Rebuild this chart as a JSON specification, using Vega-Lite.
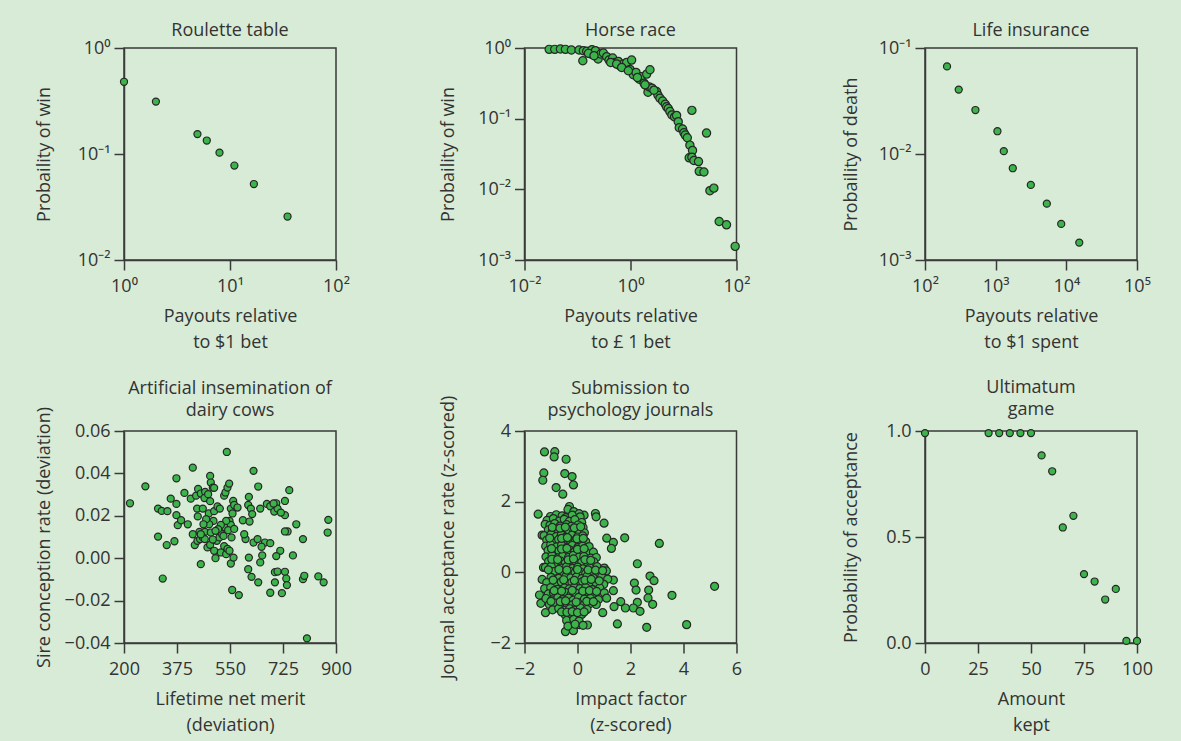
{
  "$schema": "https://vega.github.io/schema/vega-lite/v6.json",
  "background": "#d8ebd6",
  "padding": {"left": 34, "top": 21, "right": 30, "bottom": 8},
  "config": {
    "font": "Open Sans",
    "view": {"stroke": "#3a3a3a", "strokeWidth": 1.5},
    "axis": {
      "domainColor": "#3a3a3a", "domainWidth": 1.5,
      "tickColor": "#3a3a3a", "tickWidth": 1.5, "tickSize": 10,
      "grid": false, "labelFontSize": 18, "labelColor": "#333333",
      "titleFontSize": 18, "titleFontWeight": "normal", "titleColor": "#333333",
      "labelFlush": false, "labelOverlap": false
    },
    "axisX": {"labelPadding": 7, "titlePadding": 12, "titleLineHeight": 26},
    "axisY": {"labelPadding": 4, "titlePadding": 10},
    "title": {"fontSize": 18, "fontWeight": "normal", "color": "#333333", "lineHeight": 22}
  },
  "datasets": {
    "roulette": [
      {"payout": 1, "p": 0.48}, {"payout": 2, "p": 0.312}, {"payout": 4.93, "p": 0.154},
      {"payout": 6.04, "p": 0.134}, {"payout": 7.96, "p": 0.103}, {"payout": 11.0, "p": 0.0778},
      {"payout": 16.8, "p": 0.0521}, {"payout": 34.9, "p": 0.0257}
    ],
    "horse": [
      {"payout": 0.0292, "p": 0.957}, {"payout": 0.0372, "p": 0.957}, {"payout": 0.0476, "p": 0.968},
      {"payout": 0.0591, "p": 0.957}, {"payout": 0.0767, "p": 0.936}, {"payout": 0.107, "p": 0.936},
      {"payout": 0.126, "p": 0.66}, {"payout": 0.129, "p": 0.917}, {"payout": 0.149, "p": 0.897},
      {"payout": 0.178, "p": 0.822}, {"payout": 0.188, "p": 0.947}, {"payout": 0.218, "p": 0.917},
      {"payout": 0.245, "p": 0.698}, {"payout": 0.274, "p": 0.822}, {"payout": 0.308, "p": 0.849},
      {"payout": 0.356, "p": 0.753}, {"payout": 0.394, "p": 0.675}, {"payout": 0.461, "p": 0.721},
      {"payout": 0.511, "p": 0.625}, {"payout": 0.59, "p": 0.646}, {"payout": 0.617, "p": 0.567},
      {"payout": 0.733, "p": 0.593}, {"payout": 0.822, "p": 0.549}, {"payout": 0.847, "p": 0.625},
      {"payout": 0.979, "p": 0.497}, {"payout": 1.05, "p": 0.675}, {"payout": 1.13, "p": 0.418},
      {"payout": 1.27, "p": 0.451}, {"payout": 1.47, "p": 0.362}, {"payout": 1.6, "p": 0.391},
      {"payout": 1.8, "p": 0.318}, {"payout": 2.02, "p": 0.427}, {"payout": 2.14, "p": 0.237},
      {"payout": 2.33, "p": 0.492}, {"payout": 2.26, "p": 0.282}, {"payout": 2.54, "p": 0.27},
      {"payout": 3.11, "p": 0.242}, {"payout": 3.3, "p": 0.215}, {"payout": 3.59, "p": 0.195},
      {"payout": 4.04, "p": 0.178}, {"payout": 4.53, "p": 0.16}, {"payout": 4.8, "p": 0.147},
      {"payout": 5.16, "p": 0.139}, {"payout": 5.55, "p": 0.126}, {"payout": 6.05, "p": 0.113},
      {"payout": 6.79, "p": 0.106}, {"payout": 7.41, "p": 0.111}, {"payout": 7.96, "p": 0.0906},
      {"payout": 8.32, "p": 0.0745}, {"payout": 9.61, "p": 0.0713}, {"payout": 10.2, "p": 0.0632},
      {"payout": 10.8, "p": 0.0586}, {"payout": 11.8, "p": 0.0537}, {"payout": 13.2, "p": 0.0422},
      {"payout": 14.8, "p": 0.0355}, {"payout": 12.8, "p": 0.0279}, {"payout": 14.4, "p": 0.0285},
      {"payout": 15.7, "p": 0.0256}, {"payout": 19.2, "p": 0.0247}, {"payout": 19.8, "p": 0.018},
      {"payout": 24.3, "p": 0.0176}, {"payout": 14.4, "p": 0.131}, {"payout": 27.2, "p": 0.0625},
      {"payout": 31.5, "p": 0.00957}, {"payout": 37.4, "p": 0.0104}, {"payout": 47.1, "p": 0.00351},
      {"payout": 64.8, "p": 0.00315}, {"payout": 94.4, "p": 0.00156},
      {"payout": 0.161, "p": 0.84}, {"payout": 0.205, "p": 0.778}, {"payout": 0.423, "p": 0.625},
      {"payout": 0.548, "p": 0.593}, {"payout": 0.682, "p": 0.531}, {"payout": 0.91, "p": 0.476},
      {"payout": 1.35, "p": 0.383}, {"payout": 1.88, "p": 0.301}, {"payout": 2.77, "p": 0.253}
    ],
    "life": [
      {"payout": 205, "p": 0.067}, {"payout": 300, "p": 0.0405}, {"payout": 517, "p": 0.026},
      {"payout": 1059, "p": 0.0164}, {"payout": 1303, "p": 0.01063}, {"payout": 1747, "p": 0.00734},
      {"payout": 3144, "p": 0.00511}, {"payout": 5297, "p": 0.0034}, {"payout": 8465, "p": 0.00219},
      {"payout": 15240, "p": 0.00146}
    ],
    "cows": [
      {"merit": 219.8, "rate": 0.0259}, {"merit": 270.6, "rate": 0.0339}, {"merit": 312.4, "rate": 0.0234},
      {"merit": 324.6, "rate": 0.0223}, {"merit": 343.3, "rate": 0.0222}, {"merit": 354.3, "rate": 0.0281},
      {"merit": 373.1, "rate": 0.0377}, {"merit": 373.1, "rate": 0.0256}, {"merit": 373.1, "rate": 0.0203},
      {"merit": 377.5, "rate": 0.0156}, {"merit": 399.5, "rate": 0.0308}, {"merit": 388.5, "rate": 0.0179},
      {"merit": 410.6, "rate": 0.016}, {"merit": 420.5, "rate": 0.0281}, {"merit": 427.1, "rate": 0.0427},
      {"merit": 438.1, "rate": 0.0295}, {"merit": 441.4, "rate": 0.0234}, {"merit": 443.6, "rate": 0.0197},
      {"merit": 444.7, "rate": 0.0327}, {"merit": 453.6, "rate": 0.0305}, {"merit": 449.1, "rate": 0.0124},
      {"merit": 467.9, "rate": 0.0313}, {"merit": 465.7, "rate": 0.0284}, {"merit": 460.2, "rate": 0.0234},
      {"merit": 477.8, "rate": 0.0302}, {"merit": 484.4, "rate": 0.0388}, {"merit": 486.6, "rate": 0.0357},
      {"merit": 493.2, "rate": 0.0333}, {"merit": 484.4, "rate": 0.0269}, {"merit": 480.0, "rate": 0.0211},
      {"merit": 497.6, "rate": 0.0332}, {"merit": 497.6, "rate": 0.0222}, {"merit": 508.7, "rate": 0.0244},
      {"merit": 516.4, "rate": 0.0234}, {"merit": 530.7, "rate": 0.0295}, {"merit": 535.1, "rate": 0.031},
      {"merit": 541.7, "rate": 0.0333}, {"merit": 547.3, "rate": 0.0352}, {"merit": 539.5, "rate": 0.0501},
      {"merit": 552.8, "rate": 0.0234}, {"merit": 560.5, "rate": 0.027}, {"merit": 563.8, "rate": 0.0251},
      {"merit": 558.3, "rate": 0.0211}, {"merit": 574.8, "rate": 0.0239}, {"merit": 592.5, "rate": 0.0179},
      {"merit": 612.3, "rate": 0.0289}, {"merit": 610.1, "rate": 0.0251}, {"merit": 618.9, "rate": 0.0234},
      {"merit": 623.3, "rate": 0.0208}, {"merit": 627.7, "rate": 0.0412}, {"merit": 643.2, "rate": 0.0338},
      {"merit": 649.8, "rate": 0.0234}, {"merit": 671.8, "rate": 0.0256}, {"merit": 682.9, "rate": 0.0245},
      {"merit": 696.1, "rate": 0.022}, {"merit": 702.7, "rate": 0.0259}, {"merit": 707.1, "rate": 0.0234},
      {"merit": 731.4, "rate": 0.027}, {"merit": 745.7, "rate": 0.0321}, {"merit": 768.9, "rate": 0.016},
      {"merit": 731.4, "rate": 0.0203}, {"merit": 740.2, "rate": 0.0126}, {"merit": 312.4, "rate": 0.0102},
      {"merit": 341.1, "rate": 0.0062}, {"merit": 366.5, "rate": 0.008}, {"merit": 327.9, "rate": -0.0096},
      {"merit": 433.7, "rate": 0.0062}, {"merit": 427.1, "rate": 0.0113}, {"merit": 453.6, "rate": -0.0028},
      {"merit": 466.8, "rate": 0.0124}, {"merit": 442.5, "rate": 0.0082}, {"merit": 451.3, "rate": 0.009},
      {"merit": 460.2, "rate": 0.0098}, {"merit": 475.6, "rate": 0.0051}, {"merit": 484.4, "rate": 0.0063},
      {"merit": 497.6, "rate": 0.0035}, {"merit": 486.6, "rate": 0.0121}, {"merit": 502.1, "rate": 0.0},
      {"merit": 506.5, "rate": 0.0082}, {"merit": 515.3, "rate": 0.0098}, {"merit": 519.7, "rate": 0.0027},
      {"merit": 524.1, "rate": 0.0113}, {"merit": 530.7, "rate": 0.0057}, {"merit": 535.1, "rate": 0.0145},
      {"merit": 537.3, "rate": 0.0019}, {"merit": 541.7, "rate": 0.0044}, {"merit": 548.4, "rate": 0.0035},
      {"merit": 552.8, "rate": -0.0025}, {"merit": 555.0, "rate": 0.0098}, {"merit": 561.6, "rate": 0.0003},
      {"merit": 557.2, "rate": -0.015}, {"merit": 579.2, "rate": -0.0174}, {"merit": 548.4, "rate": 0.0176},
      {"merit": 552.8, "rate": 0.0157}, {"merit": 543.9, "rate": 0.0132}, {"merit": 537.3, "rate": 0.0176},
      {"merit": 563.8, "rate": 0.0138}, {"merit": 528.5, "rate": 0.0105}, {"merit": 519.7, "rate": 0.0157},
      {"merit": 510.9, "rate": 0.0137}, {"merit": 502.1, "rate": 0.0129}, {"merit": 495.4, "rate": 0.0176},
      {"merit": 481.1, "rate": 0.016}, {"merit": 471.2, "rate": 0.0184}, {"merit": 462.4, "rate": 0.016},
      {"merit": 493.2, "rate": 0.0088}, {"merit": 466.8, "rate": 0.009}, {"merit": 453.6, "rate": 0.0113},
      {"merit": 610.1, "rate": -0.0052}, {"merit": 621.1, "rate": -0.0088}, {"merit": 643.2, "rate": -0.0114},
      {"merit": 649.8, "rate": -0.002}, {"merit": 601.3, "rate": 0.009}, {"merit": 627.7, "rate": 0.0074},
      {"merit": 641.0, "rate": 0.009}, {"merit": 656.4, "rate": 0.0013}, {"merit": 665.2, "rate": 0.0074},
      {"merit": 682.9, "rate": 0.0071}, {"merit": 654.2, "rate": 0.0054}, {"merit": 715.9, "rate": 0.0035},
      {"merit": 702.7, "rate": 0.001}, {"merit": 698.3, "rate": -0.0066}, {"merit": 707.1, "rate": -0.0063},
      {"merit": 731.4, "rate": -0.0064}, {"merit": 735.8, "rate": -0.0096}, {"merit": 738.0, "rate": -0.0127},
      {"merit": 682.9, "rate": -0.0163}, {"merit": 721.4, "rate": -0.0165}, {"merit": 698.3, "rate": -0.0114},
      {"merit": 731.4, "rate": 0.0126}, {"merit": 757.8, "rate": 0.0013}, {"merit": 790.9, "rate": 0.009},
      {"merit": 790.9, "rate": -0.0099}, {"merit": 795.3, "rate": -0.0083}, {"merit": 841.6, "rate": -0.0086},
      {"merit": 859.2, "rate": -0.0114}, {"merit": 872.4, "rate": 0.0121}, {"merit": 874.6, "rate": 0.0181},
      {"merit": 804.1, "rate": -0.0378}, {"merit": 718.1, "rate": 0.0215}, {"merit": 693.9, "rate": 0.0258},
      {"merit": 612.3, "rate": 0.0003}, {"merit": 596.9, "rate": 0.0113}, {"merit": 614.5, "rate": 0.0173}
    ],
    "journals": [
      {"impact": -1.246, "accept": 3.407}, {"impact": -0.857, "accept": 3.416}, {"impact": -0.882, "accept": 3.266},
      {"impact": -0.43, "accept": 3.2}, {"impact": -1.271, "accept": 2.814}, {"impact": -1.309, "accept": 2.606},
      {"impact": -0.48, "accept": 2.795}, {"impact": -0.204, "accept": 2.71}, {"impact": -0.153, "accept": 2.475},
      {"impact": -0.807, "accept": 2.399}, {"impact": -0.555, "accept": 2.211}, {"impact": -1.485, "accept": 1.646},
      {"impact": -0.304, "accept": 1.863}, {"impact": 0.249, "accept": 1.618}, {"impact": 0.676, "accept": 1.665},
      {"impact": 0.701, "accept": 1.571}, {"impact": 1.003, "accept": 1.392}, {"impact": 1.103, "accept": 0.968},
      {"impact": 1.354, "accept": 0.846}, {"impact": 1.279, "accept": 0.676}, {"impact": 1.781, "accept": 0.977},
      {"impact": 3.088, "accept": 0.817}, {"impact": 2.259, "accept": 0.243}, {"impact": 2.146, "accept": -0.303},
      {"impact": 2.209, "accept": -0.501}, {"impact": 2.736, "accept": -0.105}, {"impact": 2.887, "accept": -0.237},
      {"impact": 2.686, "accept": -0.501}, {"impact": 2.661, "accept": -0.727}, {"impact": 2.837, "accept": -0.906},
      {"impact": 2.259, "accept": -0.849}, {"impact": 2.108, "accept": -1.009}, {"impact": 2.359, "accept": -1.104},
      {"impact": 1.807, "accept": -1.009}, {"impact": 1.631, "accept": -0.831}, {"impact": 1.354, "accept": -0.52},
      {"impact": 1.354, "accept": -0.218}, {"impact": 1.379, "accept": -0.972}, {"impact": 1.505, "accept": -1.461},
      {"impact": 2.611, "accept": -1.556}, {"impact": 4.118, "accept": -1.48}, {"impact": 3.565, "accept": -0.652},
      {"impact": 5.173, "accept": -0.397}, {"impact": 0.952, "accept": -1.141}, {"impact": 0.374, "accept": -1.49},
      {"impact": 0.073, "accept": -1.48}, {"impact": -0.153, "accept": -1.65}, {"impact": -0.455, "accept": -1.678},
      {"impact": -1.209, "accept": -1.141}, {"impact": -1.384, "accept": -0.878}, {"impact": -1.435, "accept": -0.642},
      {"impact": -1.334, "accept": -0.2}, {"impact": -1.284, "accept": 0.139}, {"impact": -1.334, "accept": 1.053},
      {"impact": -0.36, "accept": 1.78}, {"impact": -0.14, "accept": 1.72}, {"impact": 0.06, "accept": 1.66},
      {"impact": -1.02, "accept": 1.58}, {"impact": -0.8, "accept": 1.63}, {"impact": -0.58, "accept": 1.6},
      {"impact": -0.44, "accept": 1.55}, {"impact": -0.2, "accept": 1.62}, {"impact": 0.1, "accept": 1.57},
      {"impact": -1.15, "accept": 1.47}, {"impact": -0.91, "accept": 1.52}, {"impact": -0.69, "accept": 1.45},
      {"impact": -0.5, "accept": 1.5}, {"impact": -0.31, "accept": 1.44}, {"impact": -0.1, "accept": 1.49},
      {"impact": 0.16, "accept": 1.41}, {"impact": -1.22, "accept": 1.36}, {"impact": -1.04, "accept": 1.33},
      {"impact": -0.86, "accept": 1.38}, {"impact": -0.66, "accept": 1.31}, {"impact": -0.41, "accept": 1.35},
      {"impact": -0.24, "accept": 1.3}, {"impact": 0.02, "accept": 1.34}, {"impact": 0.21, "accept": 1.27},
      {"impact": -1.1, "accept": 1.2}, {"impact": -0.95, "accept": 1.17}, {"impact": -0.76, "accept": 1.23},
      {"impact": -0.55, "accept": 1.16}, {"impact": -0.36, "accept": 1.21}, {"impact": -0.15, "accept": 1.14},
      {"impact": 0.05, "accept": 1.19}, {"impact": 0.26, "accept": 1.12}, {"impact": -1.26, "accept": 1.04},
      {"impact": -1.0, "accept": 1.07}, {"impact": -0.81, "accept": 1.01}, {"impact": -0.61, "accept": 1.06},
      {"impact": -0.45, "accept": 0.99}, {"impact": -0.21, "accept": 1.05}, {"impact": 0.0, "accept": 1.0},
      {"impact": 0.2, "accept": 1.03}, {"impact": -1.16, "accept": 0.91}, {"impact": -0.9, "accept": 0.86},
      {"impact": -0.71, "accept": 0.93}, {"impact": -0.49, "accept": 0.88}, {"impact": -0.3, "accept": 0.92},
      {"impact": -0.1, "accept": 0.85}, {"impact": 0.11, "accept": 0.9}, {"impact": 0.31, "accept": 0.87},
      {"impact": -1.2, "accept": 0.74}, {"impact": -1.01, "accept": 0.78}, {"impact": -0.79, "accept": 0.72},
      {"impact": -0.6, "accept": 0.77}, {"impact": -0.39, "accept": 0.71}, {"impact": -0.2, "accept": 0.76},
      {"impact": 0.01, "accept": 0.7}, {"impact": 0.19, "accept": 0.74}, {"impact": 0.44, "accept": 0.73},
      {"impact": -1.11, "accept": 0.62}, {"impact": -0.89, "accept": 0.57}, {"impact": -0.7, "accept": 0.61},
      {"impact": -0.51, "accept": 0.56}, {"impact": -0.29, "accept": 0.63}, {"impact": -0.11, "accept": 0.58},
      {"impact": 0.09, "accept": 0.6}, {"impact": 0.34, "accept": 0.55}, {"impact": 0.6, "accept": 0.57},
      {"impact": -1.19, "accept": 0.44}, {"impact": -0.96, "accept": 0.47}, {"impact": -0.74, "accept": 0.41},
      {"impact": -0.56, "accept": 0.46}, {"impact": -0.34, "accept": 0.42}, {"impact": -0.16, "accept": 0.48},
      {"impact": 0.06, "accept": 0.43}, {"impact": 0.24, "accept": 0.45}, {"impact": 0.5, "accept": 0.4},
      {"impact": 0.71, "accept": 0.42}, {"impact": -1.09, "accept": 0.31}, {"impact": -0.86, "accept": 0.27},
      {"impact": -0.64, "accept": 0.32}, {"impact": -0.46, "accept": 0.26}, {"impact": -0.24, "accept": 0.3},
      {"impact": -0.06, "accept": 0.25}, {"impact": 0.16, "accept": 0.29}, {"impact": 0.39, "accept": 0.24},
      {"impact": 0.61, "accept": 0.3}, {"impact": -1.21, "accept": 0.14}, {"impact": -0.99, "accept": 0.17},
      {"impact": -0.61, "accept": 0.12}, {"impact": -0.41, "accept": 0.16}, {"impact": -0.19, "accept": 0.11},
      {"impact": 0.01, "accept": 0.15}, {"impact": 0.21, "accept": 0.1}, {"impact": 0.46, "accept": 0.13},
      {"impact": 0.74, "accept": 0.16}, {"impact": 1.01, "accept": 0.12}, {"impact": -0.9, "accept": 0.02},
      {"impact": -0.51, "accept": -0.02}, {"impact": -0.29, "accept": 0.03}, {"impact": -0.09, "accept": -0.01},
      {"impact": 0.11, "accept": 0.01}, {"impact": 0.31, "accept": -0.03}, {"impact": 0.54, "accept": 0.02},
      {"impact": 0.81, "accept": -0.02}, {"impact": 1.09, "accept": 0.04}, {"impact": -1.0, "accept": -0.14},
      {"impact": -0.71, "accept": -0.17}, {"impact": -0.44, "accept": -0.12}, {"impact": -0.26, "accept": -0.16},
      {"impact": -0.04, "accept": -0.13}, {"impact": 0.16, "accept": -0.18}, {"impact": 0.36, "accept": -0.11},
      {"impact": 0.59, "accept": -0.16}, {"impact": 0.91, "accept": -0.13}, {"impact": 1.14, "accept": -0.19},
      {"impact": -1.16, "accept": -0.29}, {"impact": -0.84, "accept": -0.32}, {"impact": -0.61, "accept": -0.27},
      {"impact": -0.39, "accept": -0.33}, {"impact": -0.21, "accept": -0.28}, {"impact": 0.01, "accept": -0.31},
      {"impact": 0.19, "accept": -0.26}, {"impact": 0.46, "accept": -0.32}, {"impact": 0.69, "accept": -0.28},
      {"impact": 0.99, "accept": -0.34}, {"impact": -1.24, "accept": -0.46}, {"impact": -1.01, "accept": -0.43},
      {"impact": -0.76, "accept": -0.48}, {"impact": -0.49, "accept": -0.44}, {"impact": -0.31, "accept": -0.47},
      {"impact": -0.11, "accept": -0.42}, {"impact": 0.09, "accept": -0.46}, {"impact": 0.31, "accept": -0.43},
      {"impact": 0.56, "accept": -0.49}, {"impact": 0.84, "accept": -0.44}, {"impact": -1.1, "accept": -0.61},
      {"impact": -0.91, "accept": -0.58}, {"impact": -0.64, "accept": -0.63}, {"impact": -0.46, "accept": -0.57},
      {"impact": -0.24, "accept": -0.62}, {"impact": -0.06, "accept": -0.59}, {"impact": 0.16, "accept": -0.64},
      {"impact": 0.41, "accept": -0.56}, {"impact": 0.66, "accept": -0.61}, {"impact": 1.01, "accept": -0.58},
      {"impact": -1.19, "accept": -0.74}, {"impact": -0.96, "accept": -0.78}, {"impact": -0.74, "accept": -0.72},
      {"impact": -0.56, "accept": -0.77}, {"impact": -0.34, "accept": -0.73}, {"impact": -0.16, "accept": -0.79},
      {"impact": 0.04, "accept": -0.71}, {"impact": 0.26, "accept": -0.76}, {"impact": 0.49, "accept": -0.74},
      {"impact": 0.79, "accept": -0.77}, {"impact": 1.1, "accept": -0.73}, {"impact": -1.06, "accept": -0.91},
      {"impact": -0.84, "accept": -0.87}, {"impact": -0.59, "accept": -0.93}, {"impact": -0.41, "accept": -0.88},
      {"impact": -0.19, "accept": -0.92}, {"impact": 0.01, "accept": -0.86}, {"impact": 0.21, "accept": -0.94},
      {"impact": 0.46, "accept": -0.89}, {"impact": 0.71, "accept": -0.91}, {"impact": -0.94, "accept": -1.06},
      {"impact": -0.71, "accept": -1.02}, {"impact": -0.49, "accept": -1.08}, {"impact": -0.29, "accept": -1.03},
      {"impact": -0.11, "accept": -1.07}, {"impact": 0.11, "accept": -1.01}, {"impact": 0.36, "accept": -1.05},
      {"impact": -0.46, "accept": -1.21}, {"impact": -0.24, "accept": -1.17}, {"impact": -0.06, "accept": -1.23},
      {"impact": 0.16, "accept": -1.19}, {"impact": -0.41, "accept": -1.36}, {"impact": -0.14, "accept": -1.33},
      {"impact": 0.06, "accept": -1.38}, {"impact": -0.36, "accept": -1.52}, {"impact": -0.09, "accept": -1.47},
      {"impact": 0.21, "accept": -1.5},
      {"impact": -0.95, "accept": 1.27}, {"impact": -0.66, "accept": 1.25}, {"impact": -0.46, "accept": 1.28},
      {"impact": -0.12, "accept": 1.26}, {"impact": 0.12, "accept": 1.29}, {"impact": -1.05, "accept": 0.97},
      {"impact": -0.6, "accept": 0.96}, {"impact": -0.38, "accept": 0.98}, {"impact": -0.02, "accept": 0.95},
      {"impact": 0.22, "accept": 0.96}, {"impact": -0.98, "accept": 0.67}, {"impact": -0.6, "accept": 0.66},
      {"impact": -0.4, "accept": 0.68}, {"impact": 0.0, "accept": 0.65}, {"impact": 0.25, "accept": 0.67},
      {"impact": -0.97, "accept": 0.37}, {"impact": -0.75, "accept": 0.36}, {"impact": -0.35, "accept": 0.35},
      {"impact": -0.15, "accept": 0.38}, {"impact": 0.28, "accept": 0.36}, {"impact": 0.5, "accept": 0.34},
      {"impact": -1.1, "accept": 0.07}, {"impact": -0.7, "accept": 0.08}, {"impact": -0.4, "accept": 0.06},
      {"impact": 0.0, "accept": 0.08}, {"impact": 0.4, "accept": 0.07}, {"impact": 0.68, "accept": 0.06},
      {"impact": 0.95, "accept": 0.05}, {"impact": -0.92, "accept": -0.22}, {"impact": -0.52, "accept": -0.21},
      {"impact": -0.12, "accept": -0.23}, {"impact": 0.28, "accept": -0.22}, {"impact": 0.52, "accept": -0.2},
      {"impact": 0.82, "accept": -0.24}, {"impact": -0.88, "accept": -0.52}, {"impact": -0.6, "accept": -0.53},
      {"impact": -0.2, "accept": -0.51}, {"impact": 0.2, "accept": -0.53}, {"impact": 0.45, "accept": -0.52},
      {"impact": 0.72, "accept": -0.54}, {"impact": -1.0, "accept": -0.82}, {"impact": -0.65, "accept": -0.83},
      {"impact": -0.45, "accept": -0.81}, {"impact": -0.05, "accept": -0.84}, {"impact": 0.35, "accept": -0.82},
      {"impact": 0.6, "accept": -0.83}, {"impact": -0.6, "accept": -1.12}, {"impact": -0.4, "accept": -1.13},
      {"impact": -0.2, "accept": -1.11}, {"impact": 0.0, "accept": -1.14}, {"impact": 0.25, "accept": -1.12}
    ],
    "ultimatum": [
      {"kept": 0, "p": 0.99}, {"kept": 30, "p": 0.99}, {"kept": 35, "p": 0.99}, {"kept": 40, "p": 0.99},
      {"kept": 45, "p": 0.99}, {"kept": 50, "p": 0.99}, {"kept": 55, "p": 0.885}, {"kept": 60, "p": 0.81},
      {"kept": 65, "p": 0.545}, {"kept": 70, "p": 0.6}, {"kept": 75, "p": 0.325}, {"kept": 80, "p": 0.29},
      {"kept": 85, "p": 0.205}, {"kept": 90, "p": 0.255}, {"kept": 95, "p": 0.01}, {"kept": 100, "p": 0.01}
    ]
  },
  "columns": 3,
  "bounds": "flush",
  "spacing": {"row": 171, "column": 188.5},
  "concat": [
    {
      "width": 212, "height": 212,
      "title": {"text": "Roulette table", "offset": -1},
      "data": {"name": "roulette"},
      "mark": {"type": "circle", "size": 50, "fill": "#3cb44b", "stroke": "#262626", "strokeWidth": 1.2, "opacity": 1},
      "encoding": {
        "x": {"field": "payout", "type": "quantitative", "scale": {"type": "log", "domain": [1, 100]},
          "axis": {"values": [1, 10, 100], "title": ["Payouts relative", "to $1 bet"],
            "labelExpr": "'10' + (datum.value < 1 ? '⁻' : '') + substring('⁰¹²³⁴⁵', abs(round(log(datum.value) / LN10)), abs(round(log(datum.value) / LN10)) + 1)"}},
        "y": {"field": "p", "type": "quantitative", "scale": {"type": "log", "domain": [0.01, 1]},
          "axis": {"values": [0.01, 0.1, 1], "title": "Probaility of win", "minExtent": 61, "maxExtent": 61,
            "labelExpr": "'10' + (datum.value < 1 ? '⁻' : '') + substring('⁰¹²³⁴⁵', abs(round(log(datum.value) / LN10)), abs(round(log(datum.value) / LN10)) + 1)"}}
      }
    },
    {
      "width": 212, "height": 212,
      "title": {"text": "Horse race", "offset": -1},
      "data": {"name": "horse"},
      "mark": {"type": "circle", "size": 68, "fill": "#3cb44b", "stroke": "#262626", "strokeWidth": 1.2, "opacity": 1},
      "encoding": {
        "x": {"field": "payout", "type": "quantitative", "scale": {"type": "log", "domain": [0.01, 100]},
          "axis": {"values": [0.01, 1, 100], "title": ["Payouts relative", "to £ 1 bet"],
            "labelExpr": "'10' + (datum.value < 1 ? '⁻' : '') + substring('⁰¹²³⁴⁵', abs(round(log(datum.value) / LN10)), abs(round(log(datum.value) / LN10)) + 1)"}},
        "y": {"field": "p", "type": "quantitative", "scale": {"type": "log", "domain": [0.001, 1]},
          "axis": {"values": [0.001, 0.01, 0.1, 1], "title": "Probaility of win", "minExtent": 55, "maxExtent": 55, "titlePadding": 12,
            "labelExpr": "'10' + (datum.value < 1 ? '⁻' : '') + substring('⁰¹²³⁴⁵', abs(round(log(datum.value) / LN10)), abs(round(log(datum.value) / LN10)) + 1)"}}
      }
    },
    {
      "width": 212, "height": 212,
      "title": {"text": "Life insurance", "offset": -1},
      "data": {"name": "life"},
      "mark": {"type": "circle", "size": 50, "fill": "#3cb44b", "stroke": "#262626", "strokeWidth": 1.2, "opacity": 1},
      "encoding": {
        "x": {"field": "payout", "type": "quantitative", "scale": {"type": "log", "domain": [100, 100000]},
          "axis": {"values": [100, 1000, 10000, 100000], "title": ["Payouts relative", "to $1 spent"],
            "labelExpr": "'10' + (datum.value < 1 ? '⁻' : '') + substring('⁰¹²³⁴⁵', abs(round(log(datum.value) / LN10)), abs(round(log(datum.value) / LN10)) + 1)"}},
        "y": {"field": "p", "type": "quantitative", "scale": {"type": "log", "domain": [0.001, 0.1]},
          "axis": {"values": [0.001, 0.01, 0.1], "title": "Probaility of death", "minExtent": 55, "maxExtent": 55,
            "labelExpr": "'10' + (datum.value < 1 ? '⁻' : '') + substring('⁰¹²³⁴⁵', abs(round(log(datum.value) / LN10)), abs(round(log(datum.value) / LN10)) + 1)"}}
      }
    },
    {
      "width": 212, "height": 212,
      "title": {"text": ["Artificial insemination of", "dairy cows"], "offset": -13},
      "data": {"name": "cows"},
      "mark": {"type": "circle", "size": 50, "fill": "#3cb44b", "stroke": "#262626", "strokeWidth": 1.2, "opacity": 1},
      "encoding": {
        "x": {"field": "merit", "type": "quantitative", "scale": {"domain": [200, 900]},
          "axis": {"values": [200, 375, 550, 725, 900], "title": ["Lifetime net merit", "(deviation)"]}},
        "y": {"field": "rate", "type": "quantitative", "scale": {"domain": [-0.04, 0.06]},
          "axis": {"values": [-0.04, -0.02, 0, 0.02, 0.04, 0.06], "format": ".2f", "title": "Sire conception rate (deviation)", "minExtent": 61, "maxExtent": 61}}
      }
    },
    {
      "width": 212, "height": 212,
      "title": {"text": ["Submission to", "psychology journals"], "offset": -25},
      "data": {"name": "journals"},
      "mark": {"type": "circle", "size": 64, "fill": "#3cb44b", "stroke": "#262626", "strokeWidth": 1.2, "opacity": 1},
      "encoding": {
        "x": {"field": "impact", "type": "quantitative", "scale": {"domain": [-2, 6]},
          "axis": {"values": [-2, 0, 2, 4, 6], "format": "d", "title": ["Impact factor", "(z-scored)"]}},
        "y": {"field": "accept", "type": "quantitative", "scale": {"domain": [-2, 4]},
          "axis": {"values": [-2, 0, 2, 4], "format": "d", "title": "Journal acceptance rate (z-scored)", "minExtent": 55, "maxExtent": 55, "titlePadding": 12}}
      }
    },
    {
      "width": 212, "height": 212,
      "title": {"text": ["Ultimatum", "game"], "offset": 3},
      "data": {"name": "ultimatum"},
      "mark": {"type": "circle", "size": 50, "fill": "#3cb44b", "stroke": "#262626", "strokeWidth": 1.2, "opacity": 1},
      "encoding": {
        "x": {"field": "kept", "type": "quantitative", "scale": {"domain": [0, 100]},
          "axis": {"values": [0, 25, 50, 75, 100], "title": ["Amount", "kept"]}},
        "y": {"field": "p", "type": "quantitative", "scale": {"domain": [0, 1]},
          "axis": {"values": [0, 0.5, 1], "format": ".1f", "title": "Probability of acceptance", "minExtent": 55, "maxExtent": 55}}
      }
    }
  ]
}
